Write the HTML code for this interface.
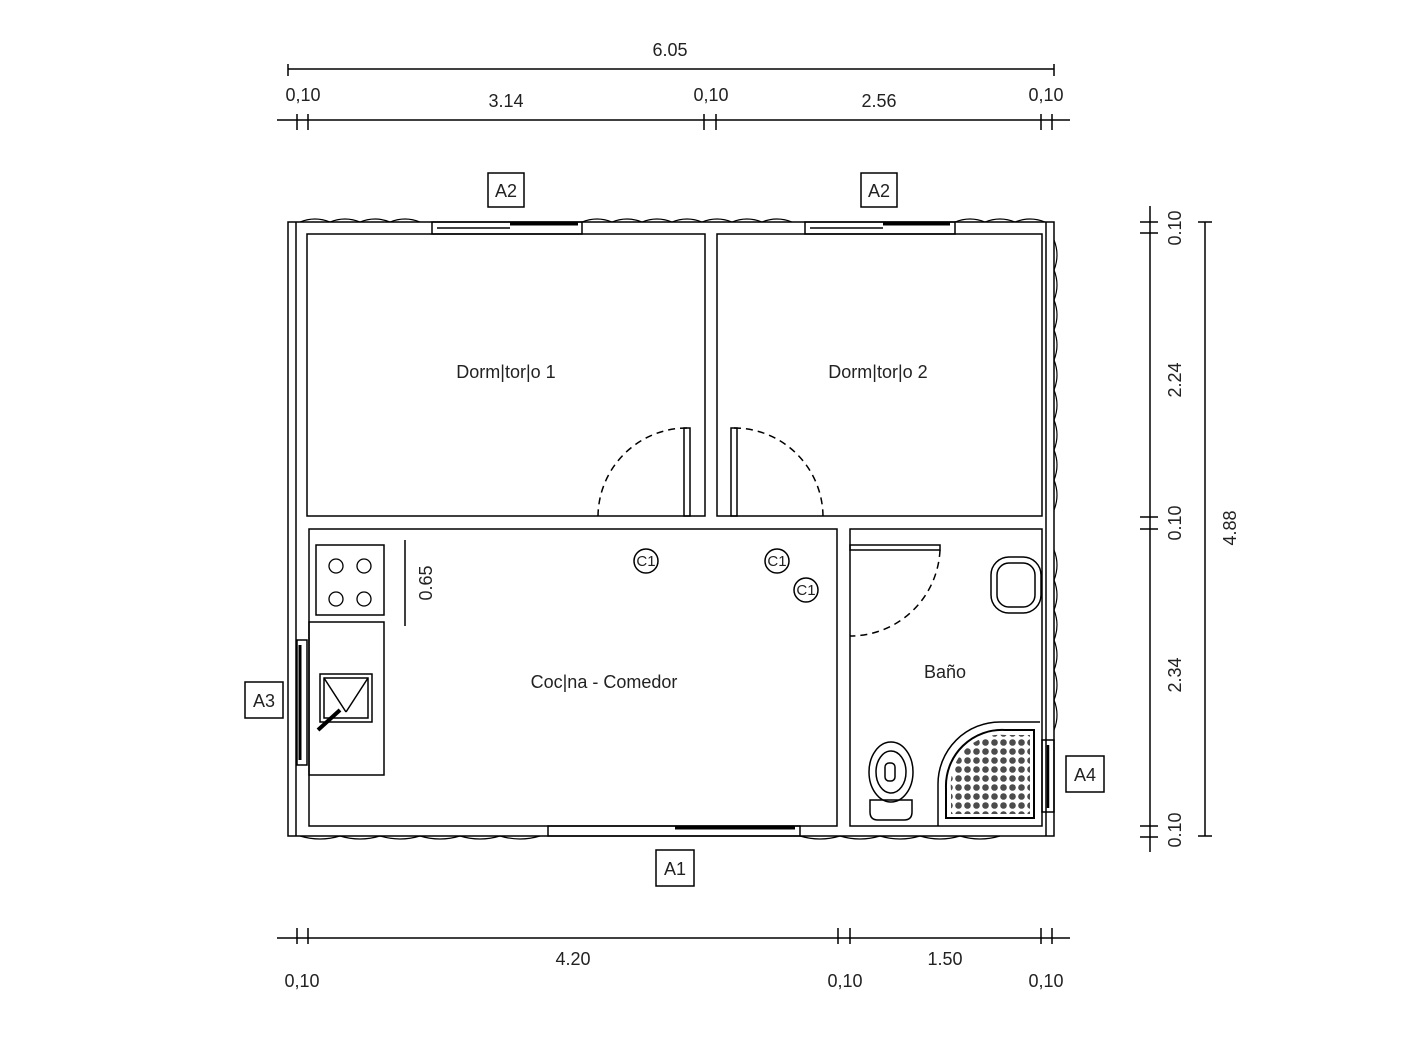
<!DOCTYPE html>
<html><head><meta charset="utf-8"><style>
html,body{margin:0;padding:0;background:#fff;}
svg{display:block;font-family:"Liberation Sans",sans-serif;}
</style></head><body>
<svg width="1428" height="1039" viewBox="0 0 1428 1039" xmlns="http://www.w3.org/2000/svg">
<g stroke="#000" fill="none" stroke-width="1.5">
<line x1="288" y1="69" x2="1054" y2="69"/>
<line x1="288" y1="64" x2="288" y2="76"/><line x1="1054" y1="64" x2="1054" y2="76"/>
<line x1="277" y1="120" x2="1070" y2="120"/>
<g><line x1="297" y1="114" x2="297" y2="130"/><line x1="308" y1="114" x2="308" y2="130"/>
<line x1="704" y1="114" x2="704" y2="130"/><line x1="716" y1="114" x2="716" y2="130"/>
<line x1="1041" y1="114" x2="1041" y2="130"/><line x1="1052" y1="114" x2="1052" y2="130"/></g>
<line x1="277" y1="938" x2="1070" y2="938"/>
<line x1="297" y1="928" x2="297" y2="944"/><line x1="308" y1="928" x2="308" y2="944"/>
<line x1="838" y1="928" x2="838" y2="944"/><line x1="850" y1="928" x2="850" y2="944"/>
<line x1="1041" y1="928" x2="1041" y2="944"/><line x1="1052" y1="928" x2="1052" y2="944"/>
<line x1="1150" y1="206" x2="1150" y2="852"/>
<line x1="1140" y1="222" x2="1158" y2="222"/><line x1="1140" y1="233" x2="1158" y2="233"/>
<line x1="1140" y1="517" x2="1158" y2="517"/><line x1="1140" y1="529" x2="1158" y2="529"/>
<line x1="1140" y1="826" x2="1158" y2="826"/><line x1="1140" y1="837" x2="1158" y2="837"/>
<line x1="1205" y1="222" x2="1205" y2="836"/>
<line x1="1198" y1="222" x2="1212" y2="222"/><line x1="1198" y1="836" x2="1212" y2="836"/>
<rect x="288" y="222" width="766" height="614"/>
<line x1="296" y1="222" x2="296" y2="836"/>
<line x1="1046" y1="222" x2="1046" y2="836"/>
<rect x="307" y="234" width="398" height="282"/>
<rect x="717" y="234" width="325" height="282"/>
<rect x="309" y="529" width="528" height="297"/>
<rect x="850" y="529" width="192" height="297"/>
<path d="M300 222 q15 -6 30 0 q15 -6 30 0 q15 -6 30 0 q15 -6 30 0 M582 222 q15 -6 30 0 q15 -6 30 0 q15 -6 30 0 q15 -6 30 0 q15 -6 30 0 q15 -6 30 0 q15 -6 30 0 M955 222 q15 -6 30 0 q15 -6 30 0 q15 -6 30 0" stroke-width="1.2"/>
<path d="M300 836 q20 6 40 0 q20 6 40 0 q20 6 40 0 q20 6 40 0 q20 6 40 0 q20 6 40 0 M800 836 q20 6 40 0 q20 6 40 0 q20 6 40 0 q20 6 40 0 q20 6 40 0" stroke-width="1.2"/>
<path d="M1054 240 q6 15 0 30 q6 15 0 30 q6 15 0 30 q6 15 0 30 q6 15 0 30 q6 15 0 30 q6 15 0 30 q6 15 0 30 q6 15 0 30 M1054 550 q6 15 0 30 q6 15 0 30 q6 15 0 30 q6 15 0 30 q6 15 0 30 q6 15 0 30" stroke-width="1.2"/>
<rect x="432" y="222" width="150" height="12"/><line x1="437" y1="228" x2="510" y2="228"/>
<line x1="510" y1="224" x2="578" y2="224" stroke-width="3"/>
<rect x="805" y="222" width="150" height="12"/><line x1="810" y1="228" x2="883" y2="228"/>
<line x1="883" y1="224" x2="950" y2="224" stroke-width="3"/>
<rect x="548" y="826" width="252" height="10"/>
<line x1="675" y1="828" x2="795" y2="828" stroke-width="3"/>
<rect x="297" y="640" width="10" height="125"/>
<line x1="300" y1="645" x2="300" y2="760" stroke-width="3"/>
<rect x="1042" y="740" width="12" height="72"/>
<line x1="1048" y1="745" x2="1048" y2="808" stroke-width="2.5"/>
<rect x="684" y="428" width="6" height="88"/>
<path d="M687 428 A89 89 0 0 0 598 516" stroke-dasharray="7 5"/>
<rect x="731" y="428" width="6" height="88"/>
<path d="M734 428 A89 89 0 0 1 823 516" stroke-dasharray="7 5"/>
<rect x="850" y="545" width="90" height="5"/>
<path d="M940 550 A90 90 0 0 1 850 636" stroke-dasharray="7 5"/>
<rect x="316" y="545" width="68" height="70"/>
<g stroke-width="1.3"><circle cx="336" cy="566" r="7"/><circle cx="364" cy="566" r="7"/><circle cx="336" cy="599" r="7"/><circle cx="364" cy="599" r="7"/></g>
<line x1="405" y1="540" x2="405" y2="626"/>
<rect x="309" y="622" width="75" height="153"/>
<rect x="320" y="674" width="52" height="48"/><rect x="324" y="678" width="44" height="40"/>
<line x1="324" y1="678" x2="346" y2="712"/><line x1="368" y1="678" x2="346" y2="712"/>
<line x1="318" y1="730" x2="340" y2="710" stroke-width="4"/>
<circle cx="646" cy="561" r="12"/><circle cx="777" cy="561" r="12"/><circle cx="806" cy="590" r="12"/>
<rect x="991" y="557" width="50" height="56" rx="18"/><rect x="997" y="563" width="38" height="44" rx="12"/>
<ellipse cx="891" cy="772" rx="22" ry="30"/><ellipse cx="891" cy="772" rx="15" ry="21"/>
<rect x="885" y="763" width="10" height="18" rx="4"/>
<path d="M870 800 h42 v12 q0 8 -8 8 h-26 q-8 0 -8 -8 z"/>
<path d="M1040 722 H1000 A62 62 0 0 0 938 784 V826"/>
<path d="M1034 730 H1005 A56 56 0 0 0 946 788 V818 H1034 Z" stroke-width="2"/>
</g>
<defs><pattern id="d" width="9" height="9" patternUnits="userSpaceOnUse"><circle cx="4.5" cy="4.5" r="3.3" fill="#000"/></pattern></defs>
<path d="M1030 735 H1006 A50 50 0 0 0 951 790 V814 H1030 Z" fill="url(#d)" opacity="0.7"/>
<g stroke="#000" fill="#fff" stroke-width="1.5">
<rect x="488" y="173" width="36" height="34"/><rect x="861" y="173" width="36" height="34"/>
<rect x="245" y="682" width="38" height="36"/><rect x="1066" y="756" width="38" height="36"/>
<rect x="656" y="850" width="38" height="36"/>
</g>
<g font-size="18" fill="#222" text-anchor="middle">
<text x="670" y="56">6.05</text>
<text x="303" y="101">0,10</text><text x="506" y="107">3.14</text><text x="711" y="101">0,10</text><text x="879" y="107">2.56</text><text x="1046" y="101">0,10</text>
<text x="573" y="965">4.20</text><text x="945" y="965">1.50</text>
<text x="302" y="987">0,10</text><text x="845" y="987">0,10</text><text x="1046" y="987">0,10</text>
<text x="506" y="197">A2</text><text x="879" y="197">A2</text><text x="264" y="707">A3</text><text x="1085" y="781">A4</text><text x="675" y="875">A1</text>
<text x="506" y="378">Dorm|tor|o 1</text><text x="878" y="378">Dorm|tor|o 2</text>
<text x="604" y="688">Coc|na - Comedor</text><text x="945" y="678">Baño</text>
<g font-size="15"><text x="646" y="566">C1</text><text x="777" y="566">C1</text><text x="806" y="595">C1</text></g>
<text transform="translate(432,583) rotate(-90)">0.65</text>
<text transform="translate(1181,228) rotate(-90)">0.10</text>
<text transform="translate(1181,380) rotate(-90)">2.24</text>
<text transform="translate(1181,523) rotate(-90)">0.10</text>
<text transform="translate(1181,675) rotate(-90)">2.34</text>
<text transform="translate(1181,830) rotate(-90)">0.10</text>
<text transform="translate(1236,528) rotate(-90)">4.88</text>
</g>
</svg>
</body></html>
